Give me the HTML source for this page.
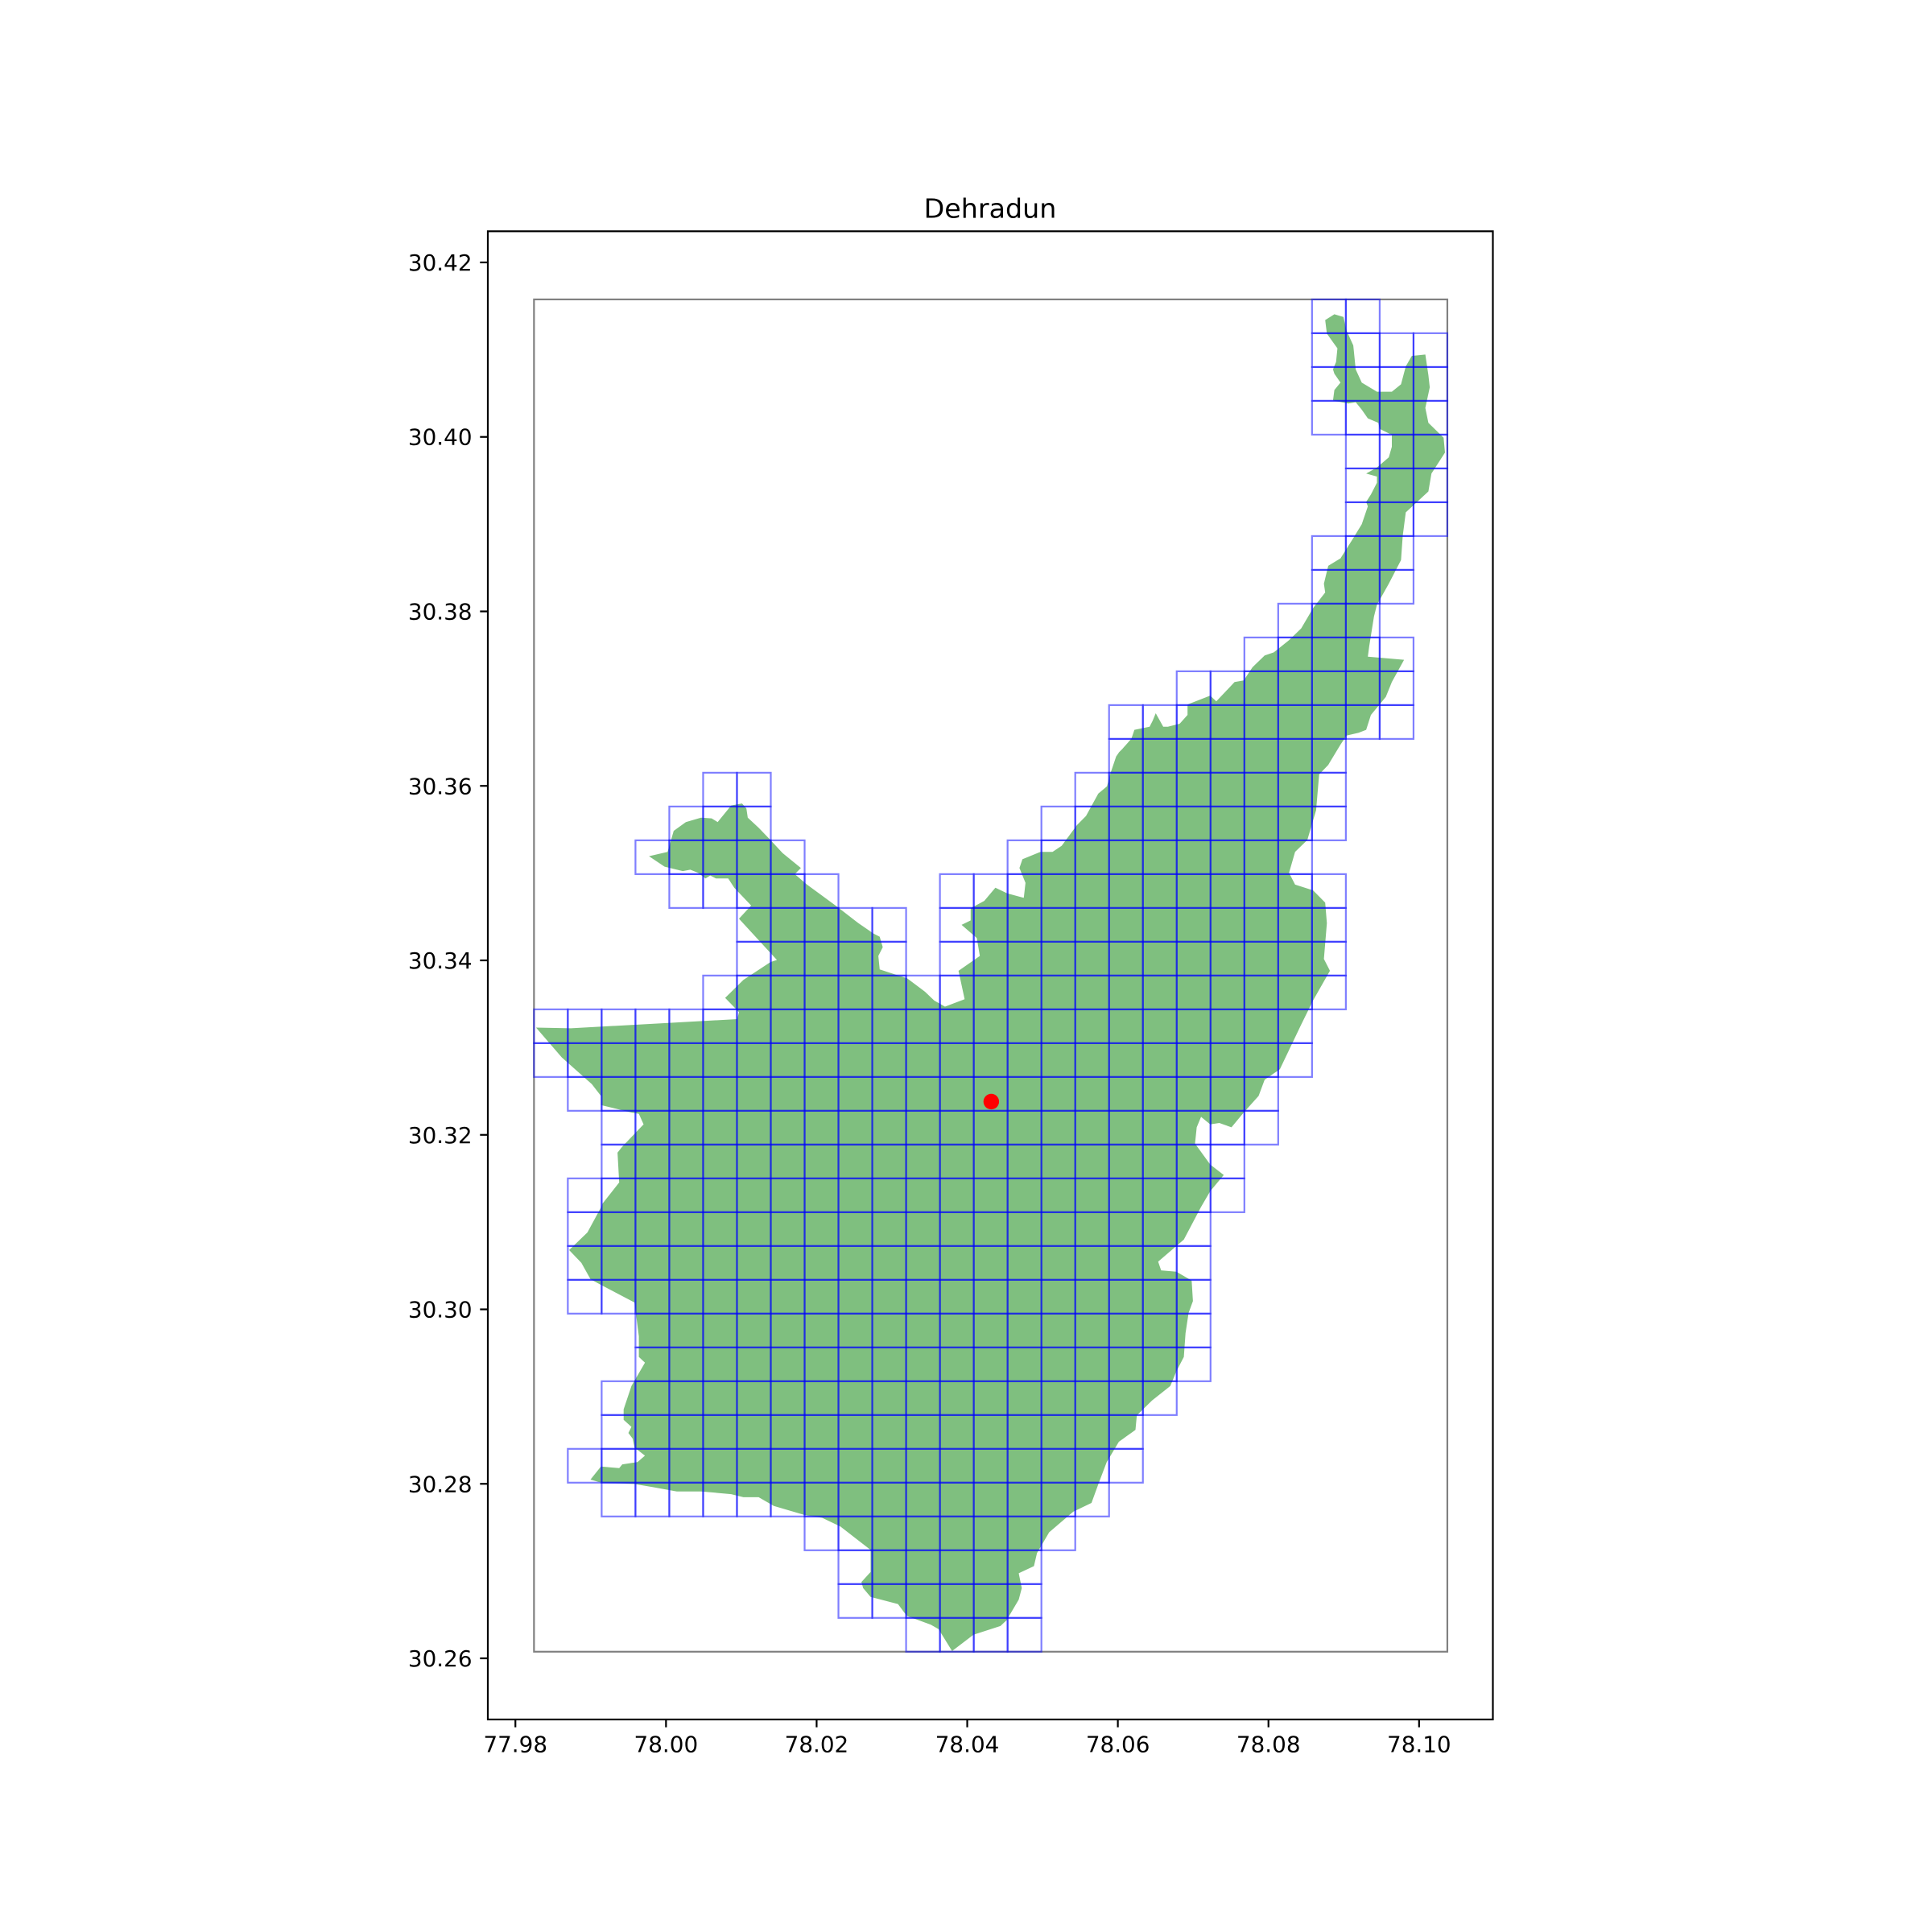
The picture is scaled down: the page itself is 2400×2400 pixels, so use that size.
<!DOCTYPE html>
<html>
<head>
<meta charset="utf-8">
<style>
  html, body { margin: 0; padding: 0; background: #ffffff; }
  svg { display: block; }
  text { font-family: "DejaVu Sans", "Liberation Sans", sans-serif; fill: #000; }
</style>
</head>
<body>
<svg id="chart" xmlns="http://www.w3.org/2000/svg" width="2400" height="2400" viewBox="0 0 2400 2400">
  <rect x="0" y="0" width="2400" height="2400" fill="#ffffff"/>
  <text x="1230" y="270.5" font-size="33.3" text-anchor="middle">Dehradun</text>
  <g id="plot"></g>
  <g id="xaxis"></g>
  <g id="yaxis"></g>
  <rect x="606" y="287.3" width="1248.5" height="1848.7" fill="none" stroke="#000" stroke-width="2.2"/>
</svg>
<script>
// ---- data ----
const xTicks = [77.98, 78.00, 78.02, 78.04, 78.06, 78.08, 78.10];
const yTicks = [30.26, 30.28, 30.30, 30.32, 30.34, 30.36, 30.38, 30.40, 30.42];
const xDomain = [77.97634, 78.10980];
const yDomain = [30.25299, 30.42357];
// grid origin (lon of first column, lat of top row) and cell size in degrees
const gridLon0 = 77.98247;
const gridLat0 = 30.41576;
const cellLon = 0.004492;
const cellLat = 0.003875;
const gridCols = 27;
const gridRows = 40;
// occupied cells per row: [startCol, endCol] ranges (inclusive)
const cellRows = [
  [[23,24]], [[23,26]], [[23,26]], [[23,26]], [[24,26]], [[24,26]], [[24,26]],
  [[23,25]], [[23,25]], [[22,24]], [[21,25]], [[19,25]], [[17,25]], [[17,23]],
  [[5,6],[16,23]], [[4,6],[15,23]], [[3,7],[14,22]], [[4,8],[12,23]],
  [[6,10],[12,23]], [[6,10],[12,23]], [[5,23]], [[0,22]], [[0,22]], [[1,21]],
  [[2,21]], [[2,20]], [[1,20]], [[1,19]], [[1,19]], [[1,19]], [[3,19]], [[3,19]],
  [[2,18]], [[2,17]], [[1,17]], [[2,16]], [[8,15]], [[9,14]], [[9,14]], [[11,14]]
];
// city centre point
const centerLon = [78.04319];
const centerLat = [30.32381];
// city boundary, in grid units (column, row) relative to grid origin
const boundaryGrid = [
[23.66,0.44],[23.93,0.52],[24.02,0.92],[24.22,1.36],[24.29,2.07],[24.47,2.46],[24.92,2.73],[25.36,2.73],[25.63,2.51],[25.77,1.98],[25.95,1.67],[26.35,1.63],[26.44,2.24],[26.48,2.6],[26.35,3.21],[26.44,3.65],[26.89,4.09],[26.93,4.53],[26.53,5.15],[26.44,5.68],[25.77,6.3],[25.68,7.0],[25.63,7.71],[25.27,8.41],[24.92,9.03],[24.83,9.38],[24.69,10.26],[24.65,10.57],[25.72,10.66],[25.36,11.32],[25.18,11.76],[24.74,12.29],[24.6,12.73],[24.38,12.82],[24.02,12.9],[23.84,13.17],[23.48,13.77],
[23.21,14.05],[23.12,15.11],[22.86,15.99],[22.5,16.34],[22.32,16.96],[22.5,17.31],[23.03,17.48],[23.39,17.84],[23.44,18.45],[23.35,19.51],[23.53,19.86],[23.03,20.74],[22.68,21.45],[22.05,22.77],[21.6,23.08],[21.42,23.56],[20.98,24.05],[20.62,24.49],[20.26,24.36],[19.99,24.4],[19.72,24.18],[19.59,24.49],[19.54,24.97],[19.99,25.59],[20.39,25.9],[19.99,26.38],[19.71,26.86],
[19.21,27.81],[18.45,28.46],[18.54,28.72],[18.99,28.76],[19.44,29.02],[19.48,29.63],[19.35,29.98],[19.26,30.58],[19.21,31.28],[18.99,31.71],[18.81,32.14],[18.27,32.57],[17.82,33.01],[17.78,33.44],[17.29,33.79],[16.93,34.39],[16.7,35.0],[16.48,35.6],[15.94,35.86],[15.23,36.47],[14.87,37.08],[14.78,37.47],[14.33,37.68],[14.42,38.12],[14.33,38.46],[13.97,39.07],[13.79,39.24],[12.99,39.5],[12.36,39.98],[11.96,39.33],[11.73,39.2],[11.02,38.94],[10.76,38.59],[9.95,38.38],[9.73,38.12],[9.68,37.94],[9.95,37.64],[9.95,36.99],[9.5,36.64],[9.06,36.3],[8.52,36.04],[7.98,35.95],[7.09,35.69],[6.64,35.43],[6.19,35.43],[5.83,35.34],[4.94,35.26],[4.22,35.26],[3.5,35.13],[2.97,35.04],[1.98,35.0],[1.67,34.91],[1.98,34.52],[2.52,34.57],[2.61,34.46],[3.06,34.39],[3.28,34.2],[2.97,33.96],[2.92,33.7],[2.79,33.53],[2.88,33.35],[2.65,33.14],[2.65,32.83],[2.88,32.14],[3.28,31.45],[3.1,31.28],[3.1,30.67],[2.97,29.67],[1.98,29.15],[1.67,28.98],[1.4,28.5],[1.04,28.12],[1.58,27.6],[1.98,26.86],[2.03,26.74],[2.52,26.12],[2.47,25.24],[2.61,25.06],[3.24,24.4],[3.1,24.09],[2.88,24.05],[1.98,23.83],[1.98,23.56],[1.71,23.21],[0.82,22.42],[0.06,21.54],[1.09,21.56],[6.01,21.29],[6.06,21.08],[5.65,20.66],[6.19,20.13],[6.99,19.6],[7.18,19.54],[6.06,18.32],[6.42,17.93],[5.92,17.4],[5.74,17.13],[5.38,17.13],[5.21,17.04],[5.07,17.13],[4.85,16.96],[4.62,16.87],[4.4,16.91],[3.86,16.78],[3.4,16.47],[3.95,16.34],[4.13,15.72],[4.49,15.46],[4.94,15.33],[5.25,15.35],[5.43,15.46],[5.83,14.97],[6.15,14.91],[6.28,15.06],[6.32,15.33],[6.64,15.63],[6.99,15.99],[7.35,16.38],[7.89,16.82],[7.71,17.0],[8.07,17.31],[8.97,17.97],[9.59,18.45],[10.04,18.76],[10.22,18.85],[10.31,19.16],[10.18,19.42],[10.22,19.82],[10.62,19.95],[11.03,20.08],[11.56,20.48],[11.83,20.74],[12.15,20.92],[12.73,20.7],[12.55,19.86],[13.18,19.42],[13.09,18.89],[12.64,18.5],[12.91,18.37],[12.91,18.01],[13.31,17.79],[13.64,17.4],[13.99,17.57],[14.48,17.7],[14.53,17.26],[14.35,16.82],[14.44,16.56],[14.97,16.34],[15.33,16.34],[15.6,16.16],[16.05,15.55],[16.32,15.28],[16.68,14.62],[16.94,14.4],[17.03,14.05],[17.21,13.52],[17.3,13.39],[17.39,13.3],[17.66,12.99],[17.75,12.73],[18.2,12.64],[18.29,12.46],[18.38,12.24],[18.6,12.64],[18.74,12.64],[19.09,12.55],[19.32,12.29],[19.32,11.98],[19.99,11.72],[20.17,11.89],[20.71,11.32],[20.98,11.27],[21.24,10.88],[21.6,10.53],[21.87,10.44],[22.32,10.08],[22.68,9.73],[23.04,9.12],[23.39,8.67],[23.35,8.41],[23.48,7.88],[23.84,7.66],[24.2,7.09],[24.47,6.65],[24.65,6.12],[24.6,5.99],[24.74,5.77],[24.92,5.42],[24.92,5.24],[24.6,5.15],[24.92,4.97],[25.27,4.67],[25.36,4.36],[25.36,4.01],[25.0,3.83],[24.96,3.65],[24.65,3.52],[24.47,3.26],[24.29,3.04],[24.07,3.08],[23.62,2.99],[23.66,2.68],[23.84,2.46],[23.66,2.2],[23.62,2.07],[23.71,1.85],[23.75,1.45],[23.44,1.01],[23.39,0.61]
];

// ---- axis functions ----
const AX = {left: 606, top: 287.3, width: 1248.5, height: 1848.7};
function X(lon) { return AX.left + (lon - xDomain[0]) / (xDomain[1] - xDomain[0]) * AX.width; }
function Y(lat) { return AX.top + (yDomain[1] - lat) / (yDomain[1] - yDomain[0]) * AX.height; }
function gLon(c) { return gridLon0 + c * cellLon; }
function gLat(r) { return gridLat0 - r * cellLat; }

const NS = 'http://www.w3.org/2000/svg';
function mk(tag, attrs, parent) {
  const el = document.createElementNS(NS, tag);
  for (const k in attrs) el.setAttribute(k, attrs[k]);
  parent.appendChild(el);
  return el;
}
const plot = document.getElementById('plot');

// boundary polygon
const pts = boundaryGrid.map(p => X(gLon(p[0])).toFixed(1) + ',' + Y(gLat(p[1])).toFixed(1)).join(' ');
const poly = mk('polygon', {points: pts, fill: '#008000', 'fill-opacity': '0.5', stroke: 'none'}, plot);



// bounding box
const bb = mk('rect', {
  x: X(gLon(0)), y: Y(gLat(0)),
  width: X(gLon(gridCols)) - X(gLon(0)), height: Y(gLat(gridRows)) - Y(gLat(0)),
  fill: 'none', stroke: '#808080', 'stroke-width': '2.2'
}, plot);



// grid cells
const cellsG = mk('g', {}, plot);


cellRows.forEach((ranges, r) => {
  ranges.forEach(rg => {
    for (let c = rg[0]; c <= rg[1]; c++) {
      const x0 = X(gLon(c)), x1 = X(gLon(c + 1));
      const y0 = Y(gLat(r)), y1 = Y(gLat(r + 1));
      const cell = mk('rect', {x: x0, y: y0, width: x1 - x0, height: y1 - y0,
        fill: 'none', stroke: '#0000ff', 'stroke-opacity': '0.5', 'stroke-width': '2.2'}, cellsG);
      
      
    }
  });
});

// centre point
centerLon.forEach((lon, i) => {
  const dot = mk('circle', {cx: X(lon), cy: Y(centerLat[i]), r: 9.7, fill: '#ff0000'}, plot);
  
  
});

// x axis
const xg = document.getElementById('xaxis');
const axBottom = AX.top + AX.height;
xTicks.forEach(v => {
  const x = X(v);
  const t = mk('line', {x1: x, x2: x, y1: axBottom, y2: axBottom + 9.7, stroke: '#000', 'stroke-width': '2.2'}, xg);
  
  
  const l = mk('text', {x: x, y: axBottom + 40.5, 'font-size': '27.8', 'text-anchor': 'middle'}, xg);
  l.textContent = v.toFixed(2);
  
  
});

// y axis
const yg = document.getElementById('yaxis');
yTicks.forEach(v => {
  const y = Y(v);
  const t = mk('line', {x1: AX.left - 9.7, x2: AX.left, y1: y, y2: y, stroke: '#000', 'stroke-width': '2.2'}, yg);
  
  
  const l = mk('text', {x: AX.left - 19.5, y: y + 10, 'font-size': '27.8', 'text-anchor': 'end'}, yg);
  l.textContent = v.toFixed(2);
  
  
});
</script>
</body>
</html>
